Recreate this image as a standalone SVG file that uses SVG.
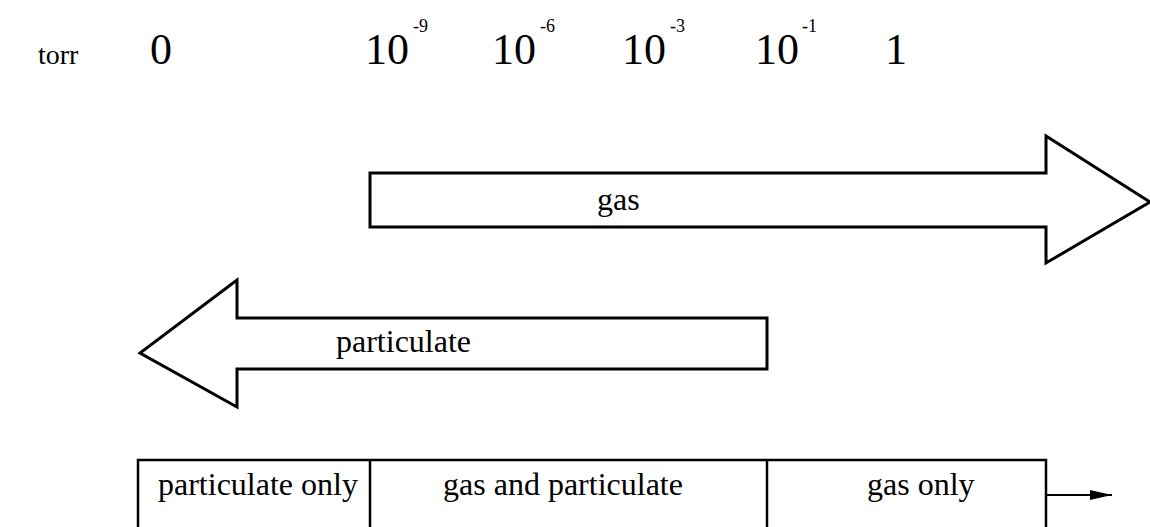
<svg xmlns="http://www.w3.org/2000/svg" width="1150" height="527" viewBox="0 0 1150 527">
<style>
.t{font-family:"Liberation Serif","Times New Roman",serif;fill:#000}
.big{font-size:44px}
.sup{font-size:18px}
.lbl{font-size:32px}
.sh{fill:#fff;stroke:#000;stroke-width:3;stroke-linejoin:miter}
.ln{fill:none;stroke:#000;stroke-width:2.5}
</style>
<defs>
<marker id="ah" viewBox="0 0 22 10" refX="22" refY="5" markerWidth="22" markerHeight="10" markerUnits="userSpaceOnUse" orient="auto">
<path d="M0,0 L22,5 L0,10 Z" fill="#000"/>
</marker>
</defs>
<rect width="1150" height="527" fill="#fff"/>
<g id="scale">
<text class="t" x="38" y="64" font-size="28">torr</text>
<text class="t big" x="150" y="64">0</text>
<text class="t big" x="365" y="64">10</text><text class="t sup" x="413" y="32">-9</text>
<text class="t big" x="492" y="64">10</text><text class="t sup" x="540" y="32">-6</text>
<text class="t big" x="622" y="64">10</text><text class="t sup" x="670" y="32">-3</text>
<text class="t big" x="755" y="64">10</text><text class="t sup" x="802" y="32">-1</text>
<text class="t big" x="885" y="64">1</text>
</g>
<g id="gas-arrow">
<path class="sh" d="M370,173 L1046,173 L1046,136 L1150,202 L1046,263 L1046,227 L370,227 Z"/>
<text class="t lbl" x="597" y="210">gas</text>
</g>
<g id="particulate-arrow">
<path class="sh" d="M767,318 L237,318 L237,280 L140,353 L237,407 L237,369 L767,369 Z"/>
<text class="t lbl" x="336" y="352">particulate</text>
</g>
<g id="regions">
<path class="ln" d="M138,530 L138,460 L1046,460 L1046,530 M370,460 L370,530 M767,460 L767,530"/>
<text class="t lbl" x="158" y="495">particulate only</text>
<text class="t lbl" x="563" y="495" text-anchor="middle">gas and particulate</text>
<text class="t lbl" x="867" y="495">gas only</text>
</g>
<g id="connectors">
<line x1="1046" y1="495" x2="1112" y2="495" stroke="#000" stroke-width="2" marker-end="url(#ah)"/>
</g>
</svg>
